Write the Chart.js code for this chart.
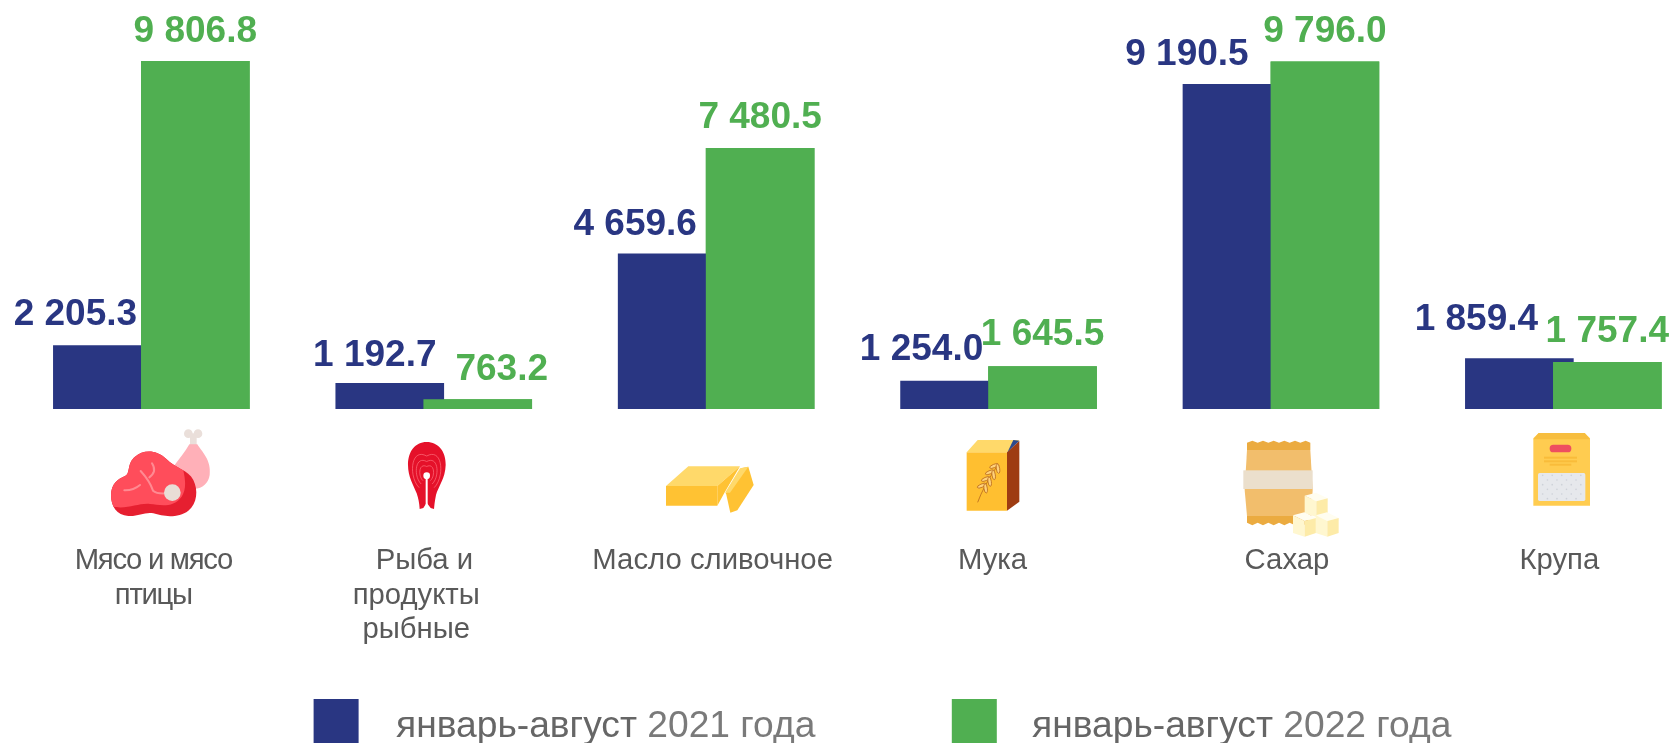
<!DOCTYPE html>
<html lang="ru">
<head>
<meta charset="utf-8">
<title>Январь-август 2021 и 2022</title>
<script src="https://cdn.jsdelivr.net/npm/chart.js@4"></script>
<style>
html, body { margin: 0; padding: 0; background: #fff; overflow: hidden; }
canvas { display: block; }
</style>
</head>
<body>
<canvas id="grafico" width="1673" height="743"></canvas>
<script>
const categories = [
	["Мясо и мясо", "птицы"],
	["  Рыба и", "продукты", "рыбные"],
	["Масло сливочное"],
	["Мука"],
	["Сахар"],
	["Крупа"]
];
const seriesNames = ["январь-август 2021 года", "январь-август 2022 года"];
const values2021 = [2205.3, 1192.7, 4659.6, 1254.0, 9190.5, 1859.4];
const values2022 = [9806.8, 763.2, 7480.5, 1645.5, 9796.0, 1757.4];

const NAVY = "#293682";
const GREEN = "#50AF51";
const FONT = '"Liberation Sans", Arial, sans-serif';
const AXIS_MIN = 500;

// label placement relative to the bar
const shift2021 = [-32, -15, -37, -33, -50, -43];
const shift2022 = [0, 24, 0, 0, 0, 0];
const gap2021 = [20, 17, 18, 21, 19, 28];
const gap2022 = [19, 19, 20, 21, 19, 20];
const categoryShift = [2, -17.5, -3.5, -6, 6, -4];
const categorySpacing = ["-1.3px", "0px", "0px", "0px", "0px", "0px"];
const legendBoxX = [313.6, 951.8];
const legendTextX = [396, 1032];

function formatValue(v) {
	const parts = v.toFixed(1).split(".");
	return parts[0].replace(/\B(?=(\d{3})+$)/g, " ") + "." + parts[1];
}

// icons, in coordinates of a 3x crop of the picture
function poly(ctx, color, pts) {
	ctx.fillStyle = color;
	ctx.beginPath();
	pts.forEach((p, i) => i ? ctx.lineTo(p[0], p[1]) : ctx.moveTo(p[0], p[1]));
	ctx.closePath();
	ctx.fill();
}

function iconMeat(ctx) {
	// bone and drumstick
	ctx.fillStyle = "#EADFDA";
	ctx.beginPath();
	ctx.arc(385, 101, 13, 0, 7);
	ctx.arc(414, 101, 13, 0, 7);
	ctx.fill();
	ctx.fillRect(390, 100, 20, 45);
	ctx.fillStyle = "#FFB0B8";
	ctx.beginPath();
	ctx.moveTo(388, 133);
	ctx.lineTo(412, 133);
	ctx.bezierCurveTo(425, 155, 455, 180, 449, 225);
	ctx.bezierCurveTo(446, 250, 425, 268, 400, 266);
	ctx.lineTo(340, 200);
	ctx.bezierCurveTo(360, 175, 375, 155, 388, 133);
	ctx.fill();
	// meat
	const meat = new Path2D("M153 285 C153 252 175 236 195 228 C212 220 200 190 225 170 C250 148 290 148 320 178 C345 205 385 210 400 240 C415 270 412 310 385 332 C355 355 310 350 280 340 C255 335 235 350 205 348 C170 345 153 320 153 285 Z");
	ctx.fillStyle = "#E61F30";
	ctx.fill(meat);
	ctx.save();
	ctx.clip(meat);
	ctx.fillStyle = "#FF4D5B";
	ctx.beginPath();
	ctx.moveTo(140, 140);
	ctx.lineTo(345, 140);
	ctx.bezierCurveTo(375, 210, 385, 260, 365, 290);
	ctx.bezierCurveTo(340, 325, 300, 315, 270, 312);
	ctx.bezierCurveTo(230, 308, 195, 335, 140, 315);
	ctx.fill();
	ctx.restore();
	ctx.strokeStyle = "#FF8A92";
	ctx.lineWidth = 6;
	ctx.lineCap = "round";
	ctx.beginPath();
	ctx.moveTo(193, 271);
	ctx.quadraticCurveTo(220, 272, 240, 255);
	ctx.moveTo(242, 213);
	ctx.bezierCurveTo(262, 235, 272, 250, 279, 272);
	ctx.quadraticCurveTo(290, 282, 318, 280);
	ctx.moveTo(268, 232);
	ctx.quadraticCurveTo(292, 215, 276, 190);
	ctx.stroke();
	ctx.fillStyle = "#E9DDD6";
	ctx.beginPath();
	ctx.arc(337, 278, 25, 0, 7);
	ctx.fill();
}

function iconFish(ctx) {
	ctx.fillStyle = "#E5112A";
	ctx.fill(new Path2D("M1100 126 C1135 126 1158 155 1157 195 C1156 235 1135 260 1128 285 C1124 305 1123 318 1122 327 L1112 324 L1100 308 L1090 324 L1079 327 C1078 310 1075 295 1070 280 C1060 255 1044 230 1044 195 C1044 155 1065 126 1100 126 Z"));
	ctx.strokeStyle = "#FF7480";
	ctx.lineWidth = 2;
	[[45, 38], [33, 27], [22, 17]].forEach(r => {
		ctx.beginPath();
		ctx.moveTo(1100, 225 - r[1] * 1.5);
		ctx.bezierCurveTo(1100 + r[0] * 1.1, 225 - r[1] * 2.2, 1100 + r[0] * 1.2, 225 + r[1] * 0.2, 1100 + r[0] * 0.5, 225 + r[1]);
		ctx.moveTo(1100, 225 - r[1] * 1.5);
		ctx.bezierCurveTo(1100 - r[0] * 1.1, 225 - r[1] * 2.2, 1100 - r[0] * 1.2, 225 + r[1] * 0.2, 1100 - r[0] * 0.5, 225 + r[1]);
		ctx.stroke();
	});
	ctx.fillStyle = "#fff";
	ctx.beginPath();
	ctx.arc(1100, 227, 10, 0, 7);
	ctx.fill();
	ctx.fillRect(1097, 230, 6, 85);
}

function iconButter(ctx) {
	poly(ctx, "#FFD96A", [[198, 258], [265, 199], [420, 199], [352, 258]]);
	poly(ctx, "#FFC233", [[198, 258], [352, 258], [352, 317], [198, 317]]);
	poly(ctx, "#FFC233", [[352, 258], [420, 199], [375, 275], [352, 317]]);
	poly(ctx, "#FFC233", [[378, 280], [423, 205], [445, 200], [461, 255], [412, 331], [391, 338]]);
	poly(ctx, "#FFD96A", [[375, 278], [420, 205], [445, 200], [390, 278]]);
}

function iconFlour(ctx) {
	poly(ctx, "#FFBF30", [[1100, 157], [1221, 157], [1221, 332], [1100, 332]]);
	poly(ctx, "#FFD96A", [[1100, 157], [1133, 120], [1258, 120], [1221, 157]]);
	poly(ctx, "#9E3C12", [[1221, 157], [1258, 122], [1258, 305], [1221, 332]]);
	poly(ctx, "#2B4A8C", [[1223, 155], [1240, 120], [1258, 122]]);
	ctx.strokeStyle = "#B96A1E";
	ctx.lineWidth = 2.5;
	ctx.beginPath();
	ctx.moveTo(1133, 307);
	ctx.quadraticCurveTo(1150, 260, 1192, 197);
	ctx.stroke();
	ctx.fillStyle = "#FFD27A";
	[[1150, 262], [1162, 242], [1174, 222], [1187, 203]].forEach(p => {
		[-0.1, 1.2].forEach(a => {
			ctx.beginPath();
			ctx.ellipse(p[0] + (a < 0 ? -5 : 7), p[1] + (a < 0 ? -5 : 3), 14, 5, -a - 0.5, 0, 7);
			ctx.fill();
			ctx.stroke();
		});
	});
}

function iconSugar(ctx) {
	const zig = [];
	for (let x = 291; x <= 481; x += 32) {
		zig.push([x, 128], [x + 16, 122]);
	}
	poly(ctx, "#EBAB40", zig.concat([[481, 128], [481, 150], [291, 150]]));
	const zig2 = [];
	for (let x = 291; x <= 481; x += 32) {
		zig2.push([x, 368], [x + 16, 376]);
	}
	poly(ctx, "#EBAB40", [[291, 348], [481, 348]].concat(zig2.reverse()));
	poly(ctx, "#F2BE6C", [[291, 150], [481, 150], [488, 270], [484, 348], [291, 348], [284, 270]]);
	ctx.fillStyle = "#EBDFCC";
	ctx.fillRect(280, 211, 208, 56);
	function cube(x, y) {
		poly(ctx, "#FFFDF0", [[x, y], [x + 34, y - 9], [x + 69, y + 8], [x + 35, y + 17]]);
		poly(ctx, "#FFF7D0", [[x, y], [x + 35, y + 17], [x + 35, y + 64], [x, y + 53]]);
		poly(ctx, "#FDEBA8", [[x + 35, y + 17], [x + 69, y + 8], [x + 69, y + 53], [x + 35, y + 64]]);
	}
	cube(464, 287);
	cube(429, 346);
	cube(497, 346);
}

function iconGrain(ctx) {
	poly(ctx, "#FFCC50", [[1150, 115], [1166, 99], [1304, 99], [1320, 115], [1320, 317], [1150, 317]]);
	poly(ctx, "#F7BE3F", [[1150, 118], [1166, 99], [1304, 99], [1320, 118]]);
	ctx.fillStyle = "#EE4F60";
	ctx.beginPath();
	ctx.roundRect(1199, 134, 65, 23, 11);
	ctx.fill();
	ctx.fillStyle = "#F9BC3A";
	ctx.fillRect(1182, 170, 99, 6);
	ctx.fillRect(1182, 181, 99, 6);
	ctx.fillRect(1199, 191, 65, 6);
	ctx.fillStyle = "#E6E8EC";
	ctx.beginPath();
	ctx.roundRect(1164, 219, 142, 84, 5);
	ctx.fill();
	ctx.fillStyle = "#CDD1D8";
	for (let row = 0; row < 6; row++) {
		for (let col = 0; col < 9; col++) {
			if ((row + col) % 2 == 0) {
				ctx.beginPath();
				ctx.arc(1178 + col * 14.3, 226 + row * 14, 2.5, 0, 7);
				ctx.fill();
			}
		}
	}
}

const icons = [
	{ ox: 60, oy: 400, draw: iconMeat },
	{ ox: 60, oy: 400, draw: iconFish },
	{ ox: 600, oy: 400, draw: iconButter },
	{ ox: 600, oy: 400, draw: iconFlour },
	{ ox: 1150, oy: 400, draw: iconSugar },
	{ ox: 1150, oy: 400, draw: iconGrain }
];

const decorations = {
	id: "decorations",
	afterDatasetsDraw(chart) {
		const ctx = chart.ctx;
		// the 2022 bars lie over the 2021 bars
		chart.getDatasetMeta(1).controller.draw();

		ctx.save();
		ctx.textAlign = "center";
		ctx.textBaseline = "alphabetic";
		ctx.font = "bold 37px " + FONT;
		chart.getDatasetMeta(0).data.forEach((bar, i) => {
			ctx.fillStyle = NAVY;
			ctx.fillText(formatValue(values2021[i]), bar.x + shift2021[i], bar.y - gap2021[i]);
		});
		chart.getDatasetMeta(1).data.forEach((bar, i) => {
			ctx.fillStyle = GREEN;
			ctx.fillText(formatValue(values2022[i]), bar.x + shift2022[i], bar.y - gap2022[i]);
		});

		icons.forEach(icon => {
			ctx.save();
			ctx.translate(icon.ox, icon.oy);
			ctx.scale(1 / 3, 1 / 3);
			icon.draw(ctx);
			ctx.restore();
		});

		ctx.font = "29.3px " + FONT;
		ctx.fillStyle = "#595959";
		categories.forEach((lines, i) => {
			const x = chart.scales.x.getPixelForValue(i) + categoryShift[i];
			ctx.letterSpacing = categorySpacing[i];
			lines.forEach((line, j) => ctx.fillText(line, x, 569 + j * 34.5));
		});
		ctx.letterSpacing = "0px";

		// legend
		ctx.textAlign = "left";
		ctx.font = "37.2px " + FONT;
		chart.data.datasets.forEach((ds, i) => {
			ctx.fillStyle = ds.backgroundColor;
			ctx.fillRect(legendBoxX[i], 699, 45, 44);
			const head = ds.label.slice(0, ds.label.indexOf(" ") + 1);
			const tail = ds.label.slice(head.length);
			ctx.fillStyle = "#666666";
			ctx.fillText(head, legendTextX[i], 737);
			ctx.fillStyle = "#7A7A7A";
			ctx.fillText(tail, legendTextX[i] + ctx.measureText(head).width, 737);
		});
		ctx.restore();
	}
};

new Chart(document.querySelector("#grafico"), {
	type: "bar",
	data: {
		labels: categories,
		datasets: [
			{ label: seriesNames[0], data: values2021, backgroundColor: NAVY, clip: false, base: AXIS_MIN },
			{ label: seriesNames[1], data: values2022, backgroundColor: GREEN, clip: false, base: AXIS_MIN }
		]
	},
	options: {
		responsive: false,
		animation: false,
		categoryPercentage: 0.623,
		barPercentage: 1.235,
		layout: { padding: { left: 151.35, right: 109.65, top: 53.8, bottom: 334 } },
		scales: {
			x: { display: false, offset: false },
			y: { display: false, min: AXIS_MIN, max: 10000 }
		},
		plugins: { legend: { display: false }, tooltip: { enabled: false } }
	},
	plugins: [decorations]
});
</script>
</body>
</html>
